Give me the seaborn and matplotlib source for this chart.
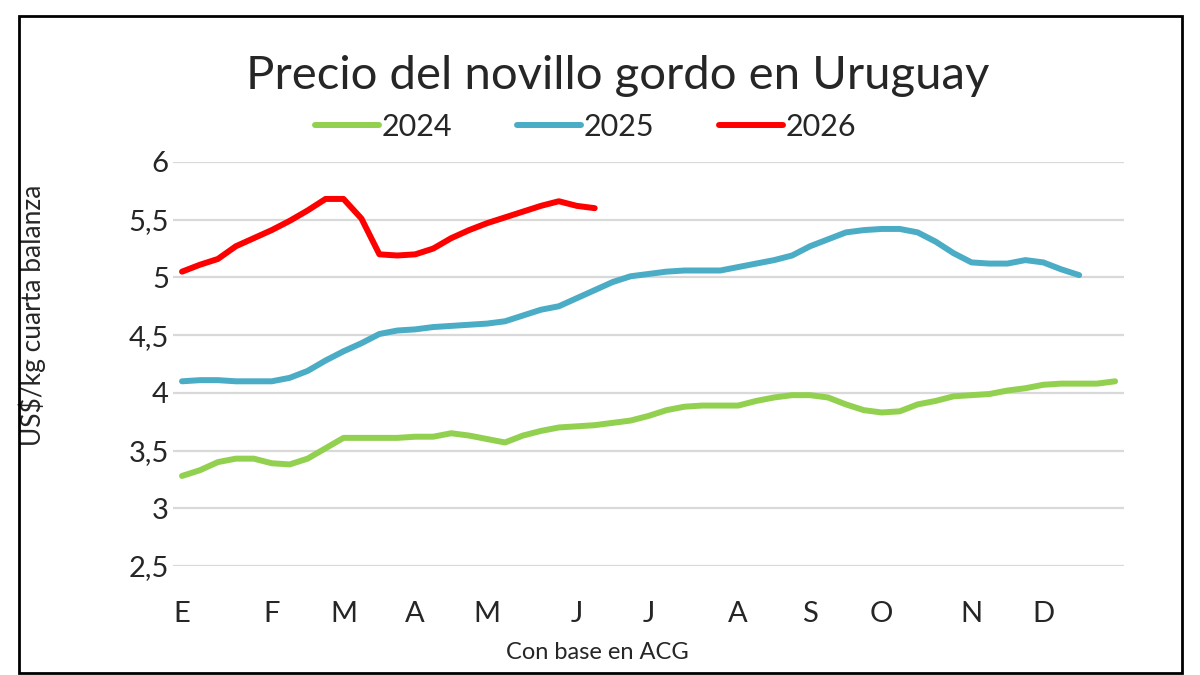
import numpy as np
import pandas as pd
import matplotlib
matplotlib.use("Agg")
import matplotlib.pyplot as plt
import matplotlib.patches as patches
import seaborn as sns

# weekly prices, US$/kg cuarta balanza
p2024 = [3.28, 3.33, 3.40, 3.43, 3.43, 3.39, 3.38, 3.43, 3.52, 3.61,
         3.61, 3.61, 3.61, 3.62, 3.62, 3.65, 3.63, 3.60, 3.57, 3.63,
         3.67, 3.70, 3.71, 3.72, 3.74, 3.76, 3.80, 3.85, 3.88, 3.89,
         3.89, 3.89, 3.93, 3.96, 3.98, 3.98, 3.96, 3.90, 3.85, 3.83,
         3.84, 3.90, 3.93, 3.97, 3.98, 3.99, 4.02, 4.04, 4.07, 4.08,
         4.08, 4.08, 4.10]
p2025 = [4.10, 4.11, 4.11, 4.10, 4.10, 4.10, 4.13, 4.19, 4.28, 4.36,
         4.43, 4.51, 4.54, 4.55, 4.57, 4.58, 4.59, 4.60, 4.62, 4.67,
         4.72, 4.75, 4.82, 4.89, 4.96, 5.01, 5.03, 5.05, 5.06, 5.06,
         5.06, 5.09, 5.12, 5.15, 5.19, 5.27, 5.33, 5.39, 5.41, 5.42,
         5.42, 5.39, 5.31, 5.21, 5.13, 5.12, 5.12, 5.15, 5.13, 5.07,
         5.02]
p2026 = [5.05, 5.11, 5.16, 5.27, 5.34, 5.41, 5.49, 5.58, 5.68, 5.68,
         5.51, 5.20, 5.19, 5.20, 5.25, 5.34, 5.41, 5.47, 5.52, 5.57,
         5.62, 5.66, 5.62, 5.60]

month_labels = ["E", "F", "M", "A", "M", "J", "J", "A", "S", "O", "N", "D"]
month_weeks = [0, 5, 9, 13, 17, 22, 26, 31, 35, 39, 44, 48]
y_ticks = [2.5, 3, 3.5, 4, 4.5, 5, 5.5, 6]
y_labels = ["2,5", "3", "3,5", "4", "4,5", "5", "5,5", "6"]

colors = {"2024": "#92D050", "2025": "#4BACC6", "2026": "#FF0000"}

rows = []
for year, vals in [("2024", p2024), ("2025", p2025), ("2026", p2026)]:
    for i, v in enumerate(vals):
        rows.append({"semana": i, "precio": v, "año": year})
df = pd.DataFrame(rows)

sns.set_style("white")
plt.rcParams["font.family"] = ["Lato", "DejaVu Sans"]

fig = plt.figure(figsize=(12, 6.75), dpi=100)
ax = fig.add_axes([0.1442, 0.1615, 0.7925, 0.5985])

sns.lineplot(data=df, x="semana", y="precio", hue="año", palette=colors,
             linewidth=4.3, ax=ax, legend=False, solid_capstyle="round")

ax.set_xlim(-0.5, 52.5)
ax.set_ylim(2.5, 6)
ax.set_yticks(y_ticks)
ax.set_yticklabels(y_labels, fontsize=21)
ax.set_xticks(month_weeks)
ax.set_xticklabels(month_labels, fontsize=21)
ax.tick_params(axis="x", length=0, pad=25)
ax.tick_params(axis="y", length=0, pad=3)
ax.yaxis.grid(True, color="#d9d9d9", linewidth=1.6)
ax.set_axisbelow(True)
for s in ax.spines.values():
    s.set_visible(False)

ax.set_xlabel("Con base en ACG", fontsize=17)
ax.xaxis.set_label_coords(0.446, -0.188)
ax.set_ylabel("US$/kg cuarta balanza", fontsize=19)
ax.yaxis.set_label_coords(-0.134, 0.62)

fig.text(0.515, 0.887, "Precio del novillo gordo en Uruguay", fontsize=34,
         ha="center", va="center")

handles = [plt.Line2D([], [], color=colors[k], linewidth=4.3, solid_capstyle="round")
           for k in colors]
fig.legend(handles, list(colors.keys()), loc="center", ncol=3,
           bbox_to_anchor=(0.488, 0.812), frameon=False, fontsize=22,
           handlelength=2.1, handletextpad=0.1, columnspacing=2.1)

fig.patches.append(patches.Rectangle((19 / 1200, 2 / 675), 1163 / 1200, 657 / 675,
                                     transform=fig.transFigure, fill=False,
                                     edgecolor="black", linewidth=2))

fig.savefig("out.png", dpi=100)
